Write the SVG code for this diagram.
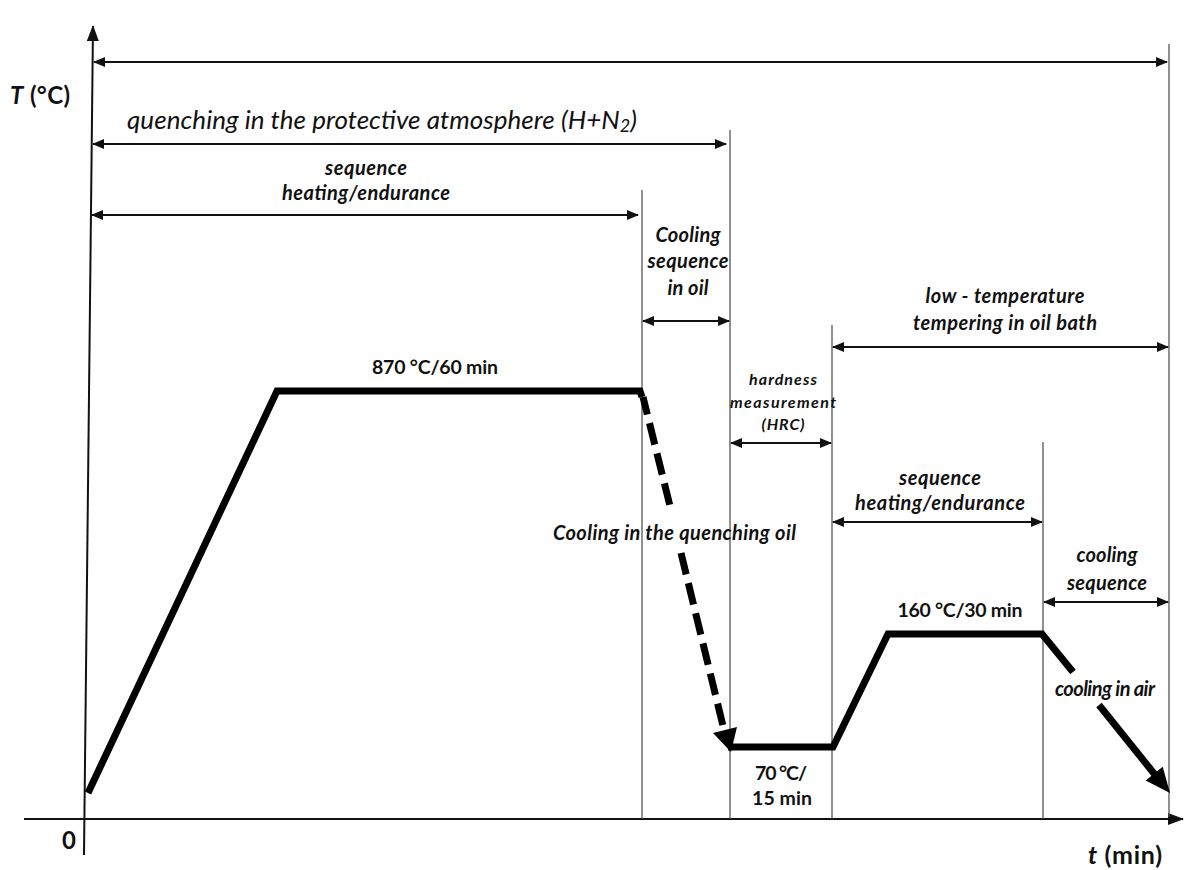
<svg xmlns="http://www.w3.org/2000/svg" width="1201" height="870" viewBox="0 0 1201 870">
<style>
.t{font-family:Lato,"Liberation Sans",sans-serif;fill:#111}
.bi{font-weight:bold;font-style:italic;font-size:20px}
.b{font-weight:bold;font-size:19.5px}
.sm{font-size:16px}
.ax{stroke:#111;stroke-width:2;fill:none}
.vl{stroke:#555;stroke-width:1.3;fill:none}
.dim{stroke:#111;stroke-width:2;fill:none;marker-start:url(#ah);marker-end:url(#ah)}
.prof{stroke:#000;stroke-width:7;fill:none;stroke-linejoin:miter}
</style>
<defs>
<marker id="ah" viewBox="0 0 12 10" refX="11" refY="5" markerWidth="12" markerHeight="10" markerUnits="userSpaceOnUse" orient="auto-start-reverse">
<path d="M0,0 L12,5 L0,10 Z" fill="#111"/>
</marker>
<marker id="ax" viewBox="0 0 16 12" refX="15" refY="6" markerWidth="16" markerHeight="12" markerUnits="userSpaceOnUse" orient="auto">
<path d="M0,0 L16,6 L0,12 Z" fill="#111"/>
</marker>
</defs>
<rect width="1201" height="870" fill="#fff"/>
<g id="axes">
<line class="ax" x1="84" y1="855" x2="93" y2="26" marker-end="url(#ax)"/>
<line class="ax" x1="24" y1="819" x2="1183" y2="819" marker-end="url(#ax)"/>
<text class="t" x="62" y="849" font-size="24" font-weight="bold">0</text>
<text class="t" x="10" y="104" font-size="24" font-weight="bold" textLength="60"><tspan font-style="italic">T</tspan> (°C)</text>
<text class="t" x="1088" y="864" font-size="25" font-weight="bold" textLength="74"><tspan font-style="italic">t</tspan> (min)</text>
</g>
<g id="connectors">
<line class="vl" x1="642" y1="190" x2="642" y2="819"/>
<line class="vl" x1="730" y1="130" x2="730" y2="819"/>
<line class="vl" x1="832" y1="325" x2="832" y2="819"/>
<line class="vl" x1="1043" y1="442" x2="1043" y2="819"/>
<line class="vl" x1="1169" y1="44" x2="1169" y2="817"/>
<line class="dim" x1="94" y1="62" x2="1167" y2="62"/>
<line class="dim" x1="93" y1="144" x2="726" y2="144"/>
<line class="dim" x1="92" y1="215" x2="638" y2="215"/>
<line class="dim" x1="643" y1="321" x2="729" y2="321"/>
<line class="dim" x1="731" y1="443" x2="831" y2="443"/>
<line class="dim" x1="833" y1="347" x2="1168" y2="347"/>
<line class="dim" x1="833" y1="522" x2="1042" y2="522"/>
<line class="dim" x1="1044" y1="602" x2="1168" y2="602"/>
</g>
<g id="profile">
<polyline class="prof" points="88,793 277,391 640,391 642,397"/>
<line class="prof" x1="643" y1="397" x2="670" y2="506" stroke-dasharray="22 9" stroke-dashoffset="4"/>
<line class="prof" x1="681" y1="553" x2="724" y2="730" stroke-dasharray="22 9"/>
<path d="M731,752 L737,727 L713,733 Z" fill="#000"/>
<polyline class="prof" points="728,747 833,747 888,634 1042,634 1073,672"/>
<line class="prof" x1="1099" y1="705" x2="1156" y2="776"/>
<path d="M1170,793 L1162.7,766.7 L1145.7,780.5 Z" fill="#000"/>
</g>
<g id="labels">
<text class="t" x="127" y="129" font-size="26" font-style="italic" fill="#333" textLength="510">quenching in the protective atmosphere (H+N<tspan font-size="18" dy="3">2</tspan><tspan dy="-3">)</tspan></text>
<g id="n-seq1" text-anchor="middle">
<text class="t bi" x="366" y="175" textLength="82">sequence</text>
<text class="t bi" x="366" y="200" textLength="168">heating/endurance</text>
</g>
<g id="n-cool-oil" text-anchor="middle">
<text class="t bi" x="688" y="242" textLength="65">Cooling</text>
<text class="t bi" x="688" y="268" textLength="81">sequence</text>
<text class="t bi" x="688" y="295" textLength="41">in oil</text>
</g>
<text id="n-870" class="t b" x="435" y="374" text-anchor="middle" textLength="126">870 °C/60 min</text>
<g id="n-hard" text-anchor="middle">
<text class="t bi sm" x="783" y="385" textLength="68">hardness</text>
<text class="t bi sm" x="783" y="408" textLength="106">measurement</text>
<text class="t bi sm" x="783" y="430" textLength="43">(HRC)</text>
</g>
<text id="n-cq" class="t bi" x="553" y="540" textLength="243">Cooling in the quenching oil</text>
<g id="n-low" text-anchor="middle">
<text class="t bi" x="1005" y="303" textLength="159">low - temperature</text>
<text class="t bi" x="1005" y="330" textLength="184">tempering in oil bath</text>
</g>
<g id="n-seq2" text-anchor="middle">
<text class="t bi" x="940" y="485" textLength="82">sequence</text>
<text class="t bi" x="940" y="510" textLength="170">heating/endurance</text>
</g>
<g id="n-coolseq" text-anchor="middle">
<text class="t bi" x="1107" y="562" textLength="61">cooling</text>
<text class="t bi" x="1107" y="590" textLength="80">sequence</text>
</g>
<text id="n-160" class="t b" x="960" y="617" text-anchor="middle" textLength="125">160 °C/30 min</text>
<text id="n-air" class="t bi" x="1105" y="696" text-anchor="middle" font-size="14" textLength="100">cooling in air</text>
<g id="n-70" text-anchor="middle">
<text class="t b" x="781" y="780" textLength="52">70 °C/</text>
<text class="t b" x="782" y="805" textLength="60">15 min</text>
</g>
</g>
</svg>
